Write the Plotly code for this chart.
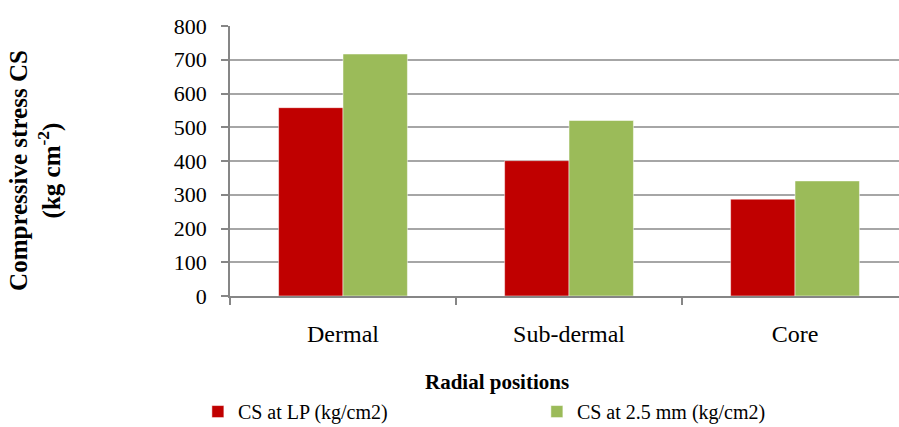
import plotly.graph_objects as go

categories = ["Dermal", "Sub-dermal", "Core"]
cs_lp = [558, 401, 287]
cs_25 = [717, 520, 341]
series_names = ["CS at LP (kg/cm2)", "CS at 2.5 mm (kg/cm2)"]
y_ticks = [0, 100, 200, 300, 400, 500, 600, 700, 800]

FONT = "Liberation Serif, Times New Roman, serif"

fig = go.Figure()
fig.add_trace(go.Bar(x=categories, y=cs_lp, name=series_names[0],
                     marker=dict(color="#C00000", line=dict(color="#FFFFFF", width=0.5))))
fig.add_trace(go.Bar(x=categories, y=cs_25, name=series_names[1],
                     marker=dict(color="#9BBB59", line=dict(color="#FFFFFF", width=0.5))))

fig.update_layout(
    width=899, height=427,
    margin=dict(l=230, r=0, t=26, b=131, pad=0, autoexpand=False),
    plot_bgcolor="white", paper_bgcolor="white",
    font=dict(family=FONT, color="black"),
    barmode="group", bargap=0.43, bargroupgap=0,
    showlegend=True,
    legend=dict(orientation="h", x=-0.048, xanchor="left", y=-0.428, yanchor="middle",
                font=dict(family=FONT, size=20, color="black"),
                entrywidth=294, entrywidthmode="pixels",
                bgcolor="rgba(0,0,0,0)"),
    xaxis=dict(range=[-0.5, 2.46], showline=True, linecolor="#868686", linewidth=1.5,
               ticks="outside", ticklen=7, tickcolor="#868686", tickwidth=1.5,
               tickson="boundaries", showgrid=False, zeroline=False, automargin=False,
               ticklabelstandoff=15,
               tickfont=dict(family=FONT, size=24, color="black")),
    yaxis=dict(range=[0, 800], tickvals=y_ticks, showline=True, linecolor="#868686", linewidth=1.5,
               ticks="outside", ticklen=7, tickcolor="#868686", tickwidth=1.5,
               showgrid=True, gridcolor="#A6A6A6", gridwidth=1.5, zeroline=False, automargin=False,
               ticklabelstandoff=10,
               tickfont=dict(family=FONT, size=22, color="black")),
    annotations=[
        dict(text="<b>Radial positions</b>", xref="paper", yref="paper",
             x=0.399, y=-0.32, xanchor="center", yanchor="middle", showarrow=False,
             font=dict(family=FONT, size=21, color="black")),
        dict(text="<b>Compressive stress CS<br>(kg cm<sup>-2</sup>)</b>", xref="paper", yref="paper",
             x=-0.29, y=0.467, xanchor="center", yanchor="middle", showarrow=False,
             textangle=-90,
             font=dict(family=FONT, size=25, color="black")),
    ],
)

fig.write_html("out.html", config={"displayModeBar": False},
               post_script="document.body.style.margin='0';")
